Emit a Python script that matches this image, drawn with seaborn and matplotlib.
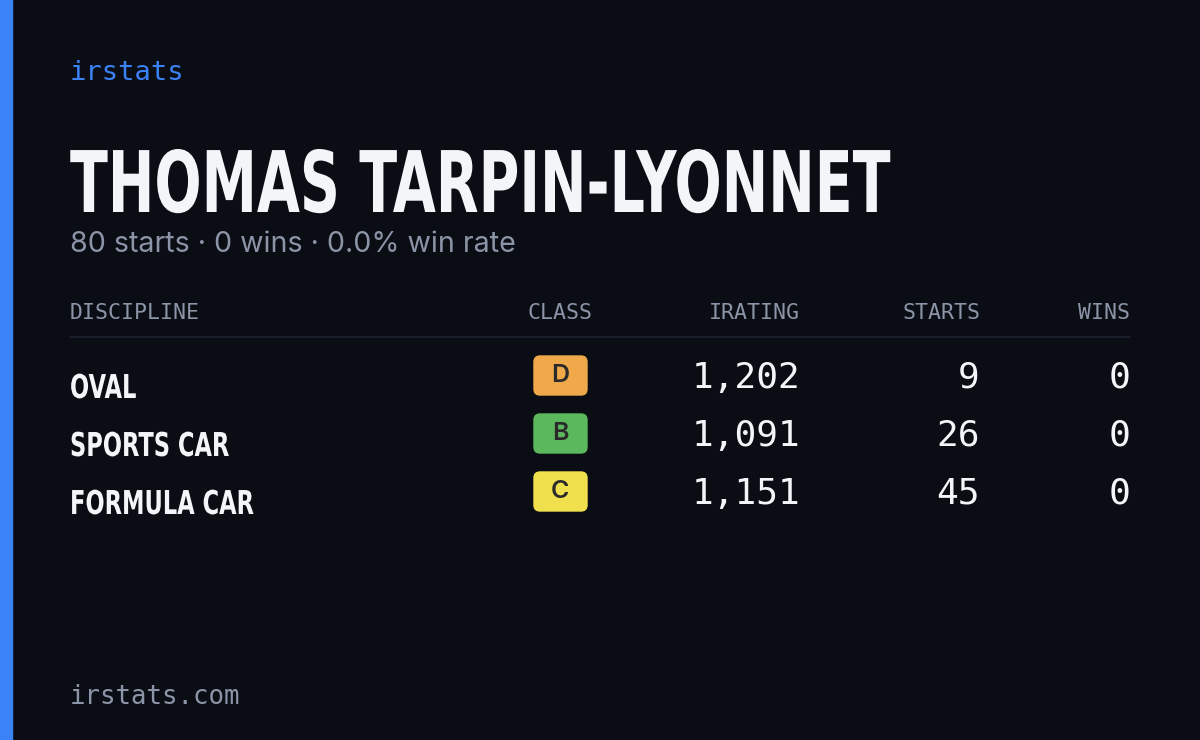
import matplotlib
matplotlib.use("Agg")
import matplotlib.pyplot as plt
from matplotlib.patches import FancyBboxPatch, Rectangle, PathPatch
from matplotlib.textpath import TextPath
from matplotlib.font_manager import FontProperties
from matplotlib.transforms import Affine2D
import seaborn as sns
import pandas as pd

# card data
driver = "THOMAS TARPIN-LYONNET"
disciplines = ["OVAL", "SPORTS CAR", "FORMULA CAR"]
classes = ["D", "B", "C"]
iratings = [1202, 1091, 1151]
starts = [9, 26, 45]
wins = [0, 0, 0]
headers = ["DISCIPLINE", "CLASS", "IRATING", "STARTS", "WINS"]

class_colors = {"D": "#f0a94a", "B": "#5cb85c", "C": "#f0e04e"}

df = pd.DataFrame({"discipline": disciplines, "cls": classes,
                   "irating": iratings, "starts": starts, "wins": wins})
total_starts = df["starts"].sum()
total_wins = df["wins"].sum()
win_rate = 100 * total_wins / total_starts

sns.set_theme(style="white")
bg = "#0a0d14"
grey = "#8b95a7"
white = "#f3f5f9"
mono = "DejaVu Sans Mono"
bold_prop = FontProperties(family="DejaVu Sans", weight="bold")


def condensed_text(ax, x, baseline, s, cap, squeeze):
    # draw text as a path, squeezed horizontally (no condensed font installed)
    tp = TextPath((0, 0), s, size=1, prop=bold_prop)
    size = cap / 0.73
    tr = Affine2D().scale(size * squeeze, -size).translate(x, baseline)
    ax.add_patch(PathPatch(tr.transform_path(tp), color=white, lw=0))


fig = plt.figure(figsize=(12, 7.4), dpi=100, facecolor=bg)
ax = fig.add_axes([0, 0, 1, 1])
ax.set_facecolor(bg)
ax.set_xlim(0, 1200)
ax.set_ylim(740, 0)
ax.axis("off")

ax.add_patch(Rectangle((0, 0), 12, 740, color="#3b82f6"))

ax.text(70, 73, "irstats", color="#3b82f6", family=mono, fontsize=19.5, va="center")

# title squeezed to the reference width
tw = TextPath((0, 0), driver, size=1, prop=bold_prop).get_extents().width
title_cap = 62
squeeze = 820 / (tw * title_cap / 0.73)
condensed_text(ax, 70, 212, driver, title_cap, squeeze)

ax.text(70, 245, f"{total_starts} starts · {total_wins} wins · {win_rate:.1f}% win rate",
        color=grey, family=["Inter", "DejaVu Sans"], fontsize=20.6, va="center")

# header row
hx = [70, 560, 800, 980, 1130]
ha = ["left", "center", "right", "right", "right"]
for h, x, a in zip(headers, hx, ha):
    ax.text(x, 313, h, color=grey, family=mono, fontsize=15.5, ha=a, va="center")
ax.plot([70, 1130], [337, 337], color="#1c2230", lw=1.2)

row_y = [376, 434, 492]
for i, row in df.iterrows():
    y = row_y[i]
    condensed_text(ax, 70, y + 22, row["discipline"], 24, squeeze * 1.05)
    ax.add_patch(FancyBboxPatch((536, y - 18), 49, 35,
                                boxstyle="round,pad=2,rounding_size=6",
                                color=class_colors[row["cls"]]))
    ax.text(560, y, row["cls"], color="#2a2a2a", fontsize=18, ha="center",
            va="center", family=["Inter", "DejaVu Sans"], fontweight="semibold")
    ax.text(800, y + 2, f"{row['irating']:,}", color=white, family=mono,
            fontsize=26, ha="right", va="center")
    ax.text(980, y + 2, str(row["starts"]), color=white, family=mono,
            fontsize=26, ha="right", va="center")
    ax.text(1130, y + 2, str(row["wins"]), color=white, family=mono,
            fontsize=26, ha="right", va="center")

ax.text(70, 697, "irstats.com", color=grey, family=mono, fontsize=18.5, va="center")

fig.savefig("out.png", dpi=100, facecolor=bg)
